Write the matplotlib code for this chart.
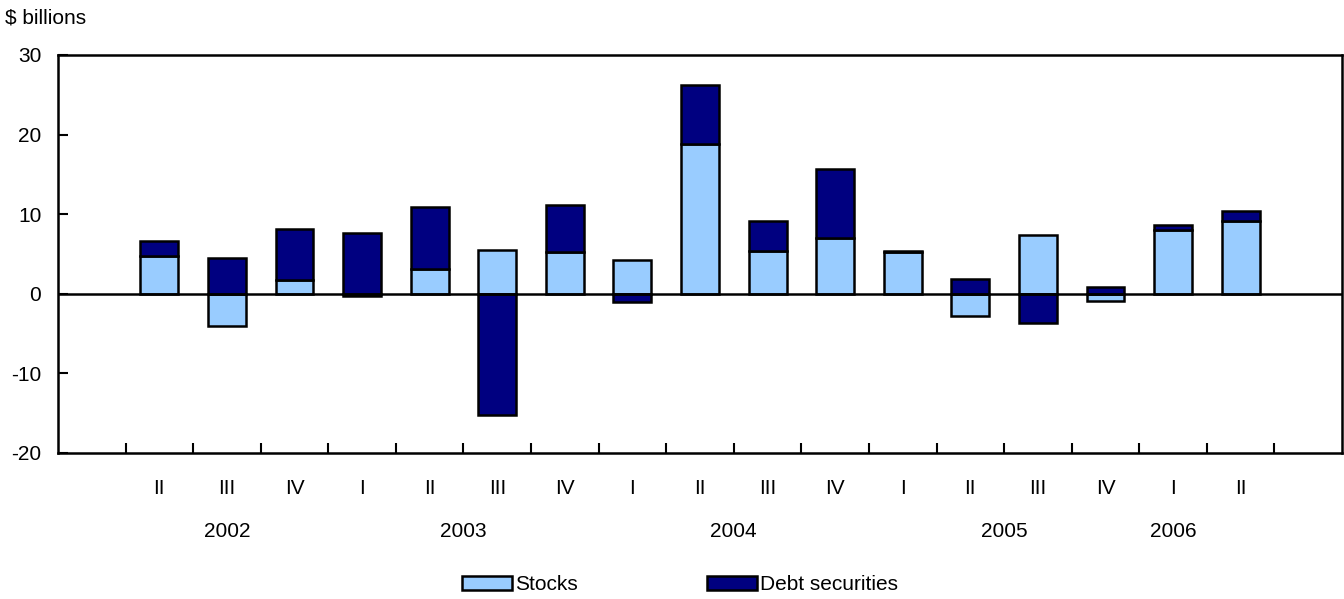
import matplotlib.pyplot as plt
import numpy as np

plt.rcParams['font.family'] = ['Liberation Sans', 'DejaVu Sans']
plt.rcParams['axes.unicode_minus'] = False

# data: quarterly values, $ billions
quarters = ['II', 'III', 'IV', 'I', 'II', 'III', 'IV', 'I', 'II', 'III',
            'IV', 'I', 'II', 'III', 'IV', 'I', 'II']
stocks = [4.7, -4.1, 1.7, -0.3, 3.1, 5.5, 5.2, 4.3, 18.85, 5.4,
          7.0, 5.2, -2.75, 7.4, -0.85, 8.0, 9.1]
debt = [1.9, 4.45, 6.4, 7.6, 7.8, -15.2, 6.0, -1.05, 7.35, 3.8,
        8.65, 0.15, 1.85, -3.65, 0.9, 0.6, 1.3]
years = ['2002', '2003', '2004', '2005', '2006']
year_pos = [2.5, 6.0, 10.0, 14.0, 16.5]  # in slot units, as placed in the original

stocks = np.array(stocks)
debt = np.array(debt)

fs = 15

fig = plt.figure(figsize=(13.44, 5.99), dpi=100)
ax = fig.add_axes([58 / 1344, 146 / 599, 1284 / 1344, 398 / 599])

x = np.arange(len(quarters)) + 1.5
w = 0.56

# stack positives on positives, negatives on negatives
debt_base = np.where(np.sign(debt) == np.sign(stocks), stocks, 0)
ax.bar(x, stocks, w, color='#99ccff', edgecolor='black', linewidth=1.8,
       label='Stocks', zorder=2)
ax.bar(x, debt, w, bottom=debt_base, color='#000080', edgecolor='black',
       linewidth=1.8, label='Debt securities', zorder=2)

ax.axhline(0, color='black', linewidth=1.8, zorder=3)

ax.set_xlim(0, 19)
ax.set_ylim(-20, 30)
ax.set_yticks([-20, -10, 0, 10, 20, 30])
ax.set_xticks(np.arange(1, 19))
ax.set_xticklabels([])
ax.tick_params(direction='in', length=7, width=1.5, labelsize=fs, pad=12)
for s in ax.spines.values():
    s.set_linewidth(1.8)

for xi, q in zip(x, quarters):
    ax.text(xi, -0.09, q, transform=ax.get_xaxis_transform(), ha='center',
            va='center', fontsize=fs)
for xp, y in zip(year_pos, years):
    ax.text(xp, -0.198, y, transform=ax.get_xaxis_transform(), ha='center',
            va='center', fontsize=fs)

fig.text(5 / 1344, 1 - 18 / 599, r'\$ billions', ha='left', va='center',
         fontsize=fs)

fig.legend(loc='center', bbox_to_anchor=(680 / 1344, 1 - 585 / 599), ncol=2,
           frameon=False, fontsize=fs, handlelength=2.4, handleheight=0.67,
           handletextpad=0.15, columnspacing=6.2)

fig.savefig('out.png', dpi=100)
